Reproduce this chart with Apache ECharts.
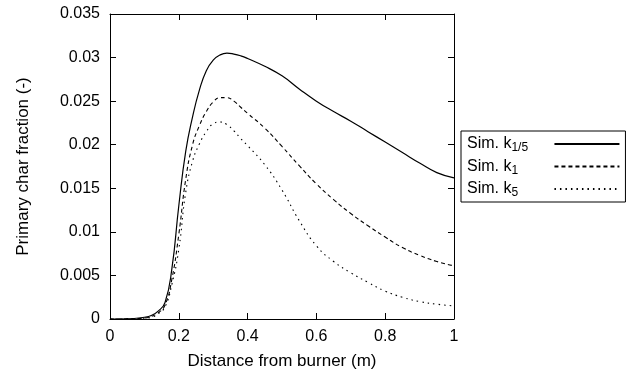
<!DOCTYPE html>
<html>
<head>
<meta charset="utf-8">
<script src="https://cdn.jsdelivr.net/npm/echarts@6/dist/echarts.min.js"></script>
<style>
  html, body { margin: 0; padding: 0; background: #fff; }
  #chart { width: 626px; height: 375px; }
</style>
</head>
<body>
<div id="chart"></div>
<script>
// ---- data ----
const distance = [0, 0.05, 0.1, 0.12, 0.14, 0.16, 0.18, 0.2, 0.22, 0.24, 0.26, 0.28, 0.3, 0.32, 0.34, 0.36, 0.38, 0.4, 0.45, 0.5, 0.55, 0.6, 0.65, 0.7, 0.75, 0.8, 0.85, 0.9, 0.95, 1.0];
const simK1_5 = [0, 0.00002, 0.0002, 0.0004, 0.0009, 0.0019, 0.0058, 0.0130, 0.0192, 0.0232, 0.0263, 0.0285, 0.0297, 0.0303, 0.0305, 0.0304, 0.0302, 0.0299, 0.0290, 0.0279, 0.0264, 0.0250, 0.0238, 0.0227, 0.0215, 0.0203, 0.0191, 0.0179, 0.0168, 0.0162];
const simK1 = [0, 0.00001, 0.0001, 0.0003, 0.0007, 0.0016, 0.0046, 0.0097, 0.0160, 0.0200, 0.0222, 0.0238, 0.0249, 0.0254, 0.0254, 0.0250, 0.0243, 0.0236, 0.0219, 0.0198, 0.0176, 0.0155, 0.0137, 0.0121, 0.0107, 0.0094, 0.0082, 0.0073, 0.0066, 0.0061];
const simK5 = [0, 0.00001, 0.0001, 0.0002, 0.0006, 0.0014, 0.0040, 0.0080, 0.0145, 0.0181, 0.0201, 0.0215, 0.0224, 0.0226, 0.0223, 0.0216, 0.0207, 0.0199, 0.0177, 0.0148, 0.0113, 0.0084, 0.0066, 0.0053, 0.0042, 0.0032, 0.0025, 0.0020, 0.0017, 0.0015];
const seriesNames = ['Sim. k1/5', 'Sim. k1', 'Sim. k5'];
const legendSubscripts = ['1/5', '1', '5'];
const xTickLabels = ['0', '0.2', '0.4', '0.6', '0.8', '1'];
const yTickLabels = ['0', '0.005', '0.01', '0.015', '0.02', '0.025', '0.03', '0.035'];
const xAxisName = 'Distance from burner (m)';
const yAxisName = 'Primary char fraction (-)';

const FONT = 'Liberation Sans';
const pair = (ys) => distance.map((x, i) => [x, ys[i]]);

const baseAxis = {
  axisLine: { show: true, onZero: false, lineStyle: { color: '#000', width: 1 } },
  axisTick: { show: true, inside: true, length: 6, lineStyle: { color: '#000', width: 1 } },
  splitLine: { show: false },
};

const chart = echarts.init(document.getElementById('chart'), null, { renderer: 'canvas' });
chart.setOption({
  animation: false,
  backgroundColor: '#fff',
  textStyle: { fontFamily: FONT },
  grid: { left: 110, right: 172, top: 14, bottom: 55, containLabel: false },
  xAxis: [
    Object.assign({}, baseAxis, {
      type: 'value', position: 'bottom', min: 0, max: 1, interval: 0.2,
      name: xAxisName, nameLocation: 'middle', nameGap: 34,
      nameTextStyle: { fontFamily: FONT, fontSize: 17, color: '#000' },
      axisLabel: { margin: 10, fontFamily: FONT, fontSize: 16, color: '#000',
        formatter: (v, i) => xTickLabels[i] }
    }),
    Object.assign({}, baseAxis, {
      type: 'value', position: 'top', min: 0, max: 1, interval: 0.2,
      axisLabel: { show: false }
    })
  ],
  yAxis: [
    Object.assign({}, baseAxis, {
      type: 'value', position: 'left', min: 0, max: 0.035, interval: 0.005,
      name: yAxisName, nameLocation: 'middle', nameGap: 78,
      nameTextStyle: { fontFamily: FONT, fontSize: 17, color: '#000' },
      axisLabel: { margin: 10, fontFamily: FONT, fontSize: 16, color: '#000',
        formatter: (v, i) => yTickLabels[i] }
    }),
    Object.assign({}, baseAxis, {
      type: 'value', position: 'right', min: 0, max: 0.035, interval: 0.005,
      axisLabel: { show: false }
    })
  ],
  legend: {
    orient: 'vertical', left: 461, top: 131, align: 'right',
    padding: [5, 5, 3, 6], itemGap: 4.5, itemWidth: 65, itemHeight: 14,
    borderColor: '#000', borderWidth: 1, borderRadius: 0, backgroundColor: '#fff',
    itemStyle: { color: 'rgba(0,0,0,0)', borderColor: 'rgba(0,0,0,0)', borderWidth: 0 },
    data: seriesNames,
    formatter: (name) => {
      const i = seriesNames.indexOf(name);
      return '{n|Sim. k}{s|' + legendSubscripts[i] + '}';
    },
    textStyle: {
      color: '#000', fontFamily: FONT,
      rich: {
        n: { fontFamily: FONT, fontSize: 16, lineHeight: 20, color: '#000', align: 'left' },
        s: { fontFamily: FONT, fontSize: 12, verticalAlign: 'bottom', color: '#000', align: 'left', width: 38 }
      }
    }
  },
  series: [
    { name: seriesNames[0], type: 'line', data: pair(simK1_5), symbol: 'none', smooth: 0.5,
      lineStyle: { color: '#000', width: 1.2, type: 'solid' }, itemStyle: { color: '#000' } },
    { name: seriesNames[1], type: 'line', data: pair(simK1), symbol: 'none', smooth: 0.5,
      lineStyle: { color: '#000', width: 1.1, type: [4, 3] }, itemStyle: { color: '#000' } },
    { name: seriesNames[2], type: 'line', data: pair(simK5), symbol: 'none', smooth: 0.5,
      lineStyle: { color: '#000', width: 1.1, type: [1.5, 4] }, itemStyle: { color: '#000' } }
  ]
});
</script>
</body>
</html>
